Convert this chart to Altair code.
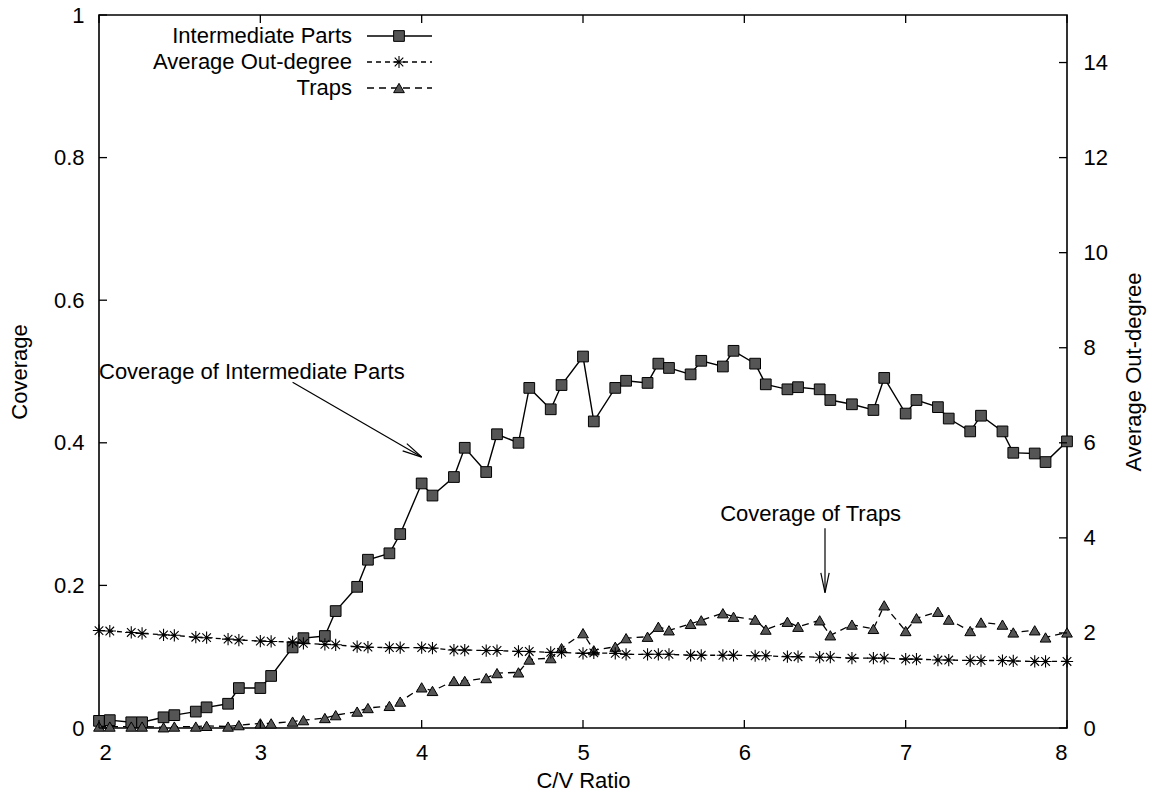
import math
import altair as alt
import pandas as pd

# C/V ratio at each sample point
cv_ratio = [2.0, 2.067, 2.2, 2.267, 2.4, 2.467, 2.6, 2.667, 2.8, 2.867,
            3.0, 3.067, 3.2, 3.267, 3.4, 3.467, 3.6, 3.667, 3.8, 3.867,
            4.0, 4.067, 4.2, 4.267, 4.4, 4.467, 4.6, 4.667, 4.8, 4.867,
            5.0, 5.067, 5.2, 5.267, 5.4, 5.467, 5.533, 5.667, 5.733, 5.867,
            5.933, 6.067, 6.133, 6.267, 6.333, 6.467, 6.533, 6.667, 6.8, 6.867,
            7.0, 7.067, 7.2, 7.267, 7.4, 7.467, 7.6, 7.667, 7.8, 7.867,
            8.0]

# coverage of intermediate parts (left axis)
intermediate_cov = [0.010, 0.011, 0.008, 0.008, 0.015, 0.018, 0.023, 0.029, 0.034, 0.056,
                    0.056, 0.073, 0.113, 0.126, 0.129, 0.164, 0.198, 0.236, 0.245, 0.272,
                    0.343, 0.326, 0.352, 0.393, 0.359, 0.412, 0.400, 0.477, 0.447, 0.481,
                    0.521, 0.430, 0.477, 0.487, 0.484, 0.511, 0.505, 0.496, 0.515, 0.507,
                    0.529, 0.511, 0.482, 0.475, 0.478, 0.475, 0.460, 0.454, 0.446, 0.491,
                    0.441, 0.460, 0.450, 0.434, 0.416, 0.438, 0.416, 0.386, 0.385, 0.373,
                    0.402]

# coverage of traps (left axis)
traps_cov = [0.002, 0.002, 0.002, 0.002, 0.001, 0.002, 0.002, 0.003, 0.002, 0.004,
             0.0065, 0.0065, 0.009, 0.011, 0.014, 0.018, 0.023, 0.028, 0.031, 0.037,
             0.057, 0.052, 0.066, 0.066, 0.070, 0.077, 0.078, 0.096, 0.098, 0.112,
             0.133, 0.109, 0.114, 0.126, 0.128, 0.142, 0.137, 0.146, 0.151, 0.161,
             0.156, 0.152, 0.138, 0.149, 0.142, 0.151, 0.130, 0.145, 0.139, 0.172,
             0.136, 0.154, 0.163, 0.152, 0.136, 0.148, 0.145, 0.134, 0.137, 0.127,
             0.134]

# average out-degree (right axis)
out_degree = [2.05, 2.04, 2.01, 1.99, 1.96, 1.95, 1.91, 1.90, 1.87, 1.85,
              1.83, 1.82, 1.81, 1.78, 1.76, 1.75, 1.71, 1.70, 1.69, 1.69,
              1.69, 1.68, 1.64, 1.64, 1.63, 1.63, 1.61, 1.61, 1.59, 1.59,
              1.57, 1.58, 1.57, 1.55, 1.55, 1.55, 1.55, 1.53, 1.53, 1.53,
              1.53, 1.52, 1.52, 1.50, 1.50, 1.49, 1.49, 1.47, 1.47, 1.47,
              1.45, 1.45, 1.43, 1.43, 1.42, 1.42, 1.42, 1.41, 1.40, 1.40,
              1.40]

x_ticks = [2, 3, 4, 5, 6, 7, 8]
y_ticks = [0, 0.2, 0.4, 0.6, 0.8, 1]
y2_ticks = [0, 2, 4, 6, 8, 10, 12, 14]

series_names = ["Intermediate Parts", "Average Out-degree", "Traps"]

annotations = pd.DataFrame({
    "cv": [2.0, 5.85],
    "cov": [0.5, 0.3],
    "text": ["Coverage of Intermediate Parts", "Coverage of Traps"],
})
# arrows: from (x0, y0) to (x1, y1)
arrows = [(3.2, 0.485, 4.0, 0.38), (6.5, 0.28, 6.5, 0.19)]

W, H = 968, 713
FONT = "Liberation Sans"
FS = 22
GRAY = "#555555"
STAR = "M-1,0H1M0,-1V1M-0.7,-0.7L0.7,0.7M-0.7,0.7L0.7,-0.7"
DASH_DEG = [5, 4]
DASH_TRAPS = [7, 5]

df = pd.DataFrame({"cv": cv_ratio, "inter": intermediate_cov,
                   "traps": traps_cov, "deg": out_degree})

x_scale = alt.Scale(domain=[2, 8], nice=False, zero=False)
y_scale = alt.Scale(domain=[0, 1], nice=False)
y2_scale = alt.Scale(domain=[0, 15], nice=False)

x_axis = alt.Axis(values=x_ticks, format="d", ticks=False, tickSize=0,
                  domain=False, grid=False, labelPadding=14, titlePadding=7)
y_axis = alt.Axis(values=y_ticks, format="~g", ticks=False, tickSize=0,
                  domain=False, grid=False, labelPadding=15, titlePadding=22)
y2_axis = alt.Axis(values=y2_ticks, format="d", ticks=False, tickSize=0,
                   domain=False, grid=False, orient="right", labelPadding=16,
                   titlePadding=38, titleAngle=270)


def X(field):
    return alt.X(field, type="quantitative", scale=x_scale, title="C/V Ratio",
                 axis=x_axis)


def Y(field):
    return alt.Y(field, type="quantitative", scale=y_scale, title="Coverage",
                 axis=y_axis)


def Y2(field):
    return alt.Y(field, type="quantitative", scale=y2_scale,
                 title="Average Out-degree", axis=y2_axis)


base = alt.Chart(df)

inter_line = base.mark_line(color="black", strokeWidth=1.4).encode(
    x=X("cv"), y=Y("inter"))
inter_pts = base.mark_point(shape="square", filled=True, fill=GRAY,
                            stroke="black", strokeWidth=1, size=115,
                            opacity=1).encode(x=X("cv"), y=Y("inter"))
traps_line = base.mark_line(color="black", strokeWidth=1.3,
                            strokeDash=DASH_TRAPS).encode(x=X("cv"), y=Y("traps"))
traps_pts = base.mark_point(shape="triangle-up", filled=True, fill=GRAY,
                            stroke="black", strokeWidth=1, size=115,
                            opacity=1).encode(x=X("cv"), y=Y("traps"))
deg_line = base.mark_line(color="black", strokeWidth=1.3,
                          strokeDash=DASH_DEG).encode(x=X("cv"), y=Y2("deg"))
deg_pts = base.mark_point(shape=STAR, filled=False, stroke="black",
                          strokeWidth=1.1, size=150, opacity=1).encode(
    x=X("cv"), y=Y2("deg"))

# inward ticks on all four sides
TL = 8
xt = alt.Chart(pd.DataFrame({"v": x_ticks}))
yt = alt.Chart(pd.DataFrame({"v": y_ticks}))
y2t = alt.Chart(pd.DataFrame({"v": y2_ticks}))
tick_kw = dict(color="black", strokeWidth=1.3)
ticks_bottom = xt.mark_rule(**tick_kw).encode(
    x=X("v"), y=alt.value(H), y2=alt.value(H - TL))
ticks_top = xt.mark_rule(**tick_kw).encode(
    x=X("v"), y=alt.value(0), y2=alt.value(TL))
ticks_left = yt.mark_rule(**tick_kw).encode(
    y=Y("v"), x=alt.value(0), x2=alt.value(TL))
ticks_right = y2t.mark_rule(**tick_kw).encode(
    y=Y2("v"), x=alt.value(W), x2=alt.value(W - TL))

# text labels and arrows
notes = alt.Chart(annotations).mark_text(
    align="left", baseline="middle", font=FONT, fontSize=FS, color="black"
).encode(x=X("cv"), y=Y("cov"), text="text:N")

sx, sy = W / 6.0, H / 1.0
head_len, head_ang = 20.0, math.radians(12)
segs = []
for x0, y0, x1, y1 in arrows:
    segs.append({"a": x0, "b": y0, "c": x1, "d": y1})
    dxp, dyp = (x1 - x0) * sx, -(y1 - y0) * sy
    n = math.hypot(dxp, dyp)
    bx, by = -dxp / n, -dyp / n
    for s in (1, -1):
        ca, sa = math.cos(s * head_ang), math.sin(s * head_ang)
        wx, wy = bx * ca - by * sa, bx * sa + by * ca
        segs.append({"a": x1, "b": y1,
                     "c": x1 + wx * head_len / sx, "d": y1 - wy * head_len / sy})
arrow_marks = alt.Chart(pd.DataFrame(segs)).mark_rule(
    color="black", strokeWidth=1.2).encode(
    x=X("a"), y=Y("b"), x2="c:Q", y2="d:Q")

# key in the top-left corner
key_rows = [21, 47, 73]
key_text_x, key_l0, key_l1, key_pt = 253, 268, 333, 300
one = alt.Chart(pd.DataFrame({"k": [0]}))
key_layers = []
dashes = [None, DASH_DEG, DASH_TRAPS]
for i, name in enumerate(series_names):
    ry = key_rows[i]
    key_layers.append(one.mark_text(align="right", baseline="middle", font=FONT,
                                    fontSize=FS, color="black").encode(
        x=alt.value(key_text_x), y=alt.value(ry), text=alt.value(name)))
    rule_kw = dict(color="black", strokeWidth=1.3)
    if dashes[i]:
        rule_kw["strokeDash"] = dashes[i]
    key_layers.append(one.mark_rule(**rule_kw).encode(
        x=alt.value(key_l0), x2=alt.value(key_l1), y=alt.value(ry)))
key_layers.append(one.mark_point(shape="square", filled=True, fill=GRAY,
                                 stroke="black", strokeWidth=1, size=115,
                                 opacity=1).encode(
    x=alt.value(key_pt), y=alt.value(key_rows[0])))
key_layers.append(one.mark_point(shape=STAR, filled=False, stroke="black",
                                 strokeWidth=1.1, size=150, opacity=1).encode(
    x=alt.value(key_pt), y=alt.value(key_rows[1])))
key_layers.append(one.mark_point(shape="triangle-up", filled=True, fill=GRAY,
                                 stroke="black", strokeWidth=1, size=115,
                                 opacity=1).encode(
    x=alt.value(key_pt), y=alt.value(key_rows[2])))

left = alt.layer(inter_line, traps_line, inter_pts, traps_pts, ticks_bottom,
                 ticks_top, ticks_left, notes, arrow_marks, *key_layers)
right = alt.layer(deg_line, deg_pts, ticks_right)

chart = alt.layer(left, right).resolve_scale(y="independent").properties(
    width=W, height=H,
    autosize=alt.AutoSizeParams(type="none"),
    padding={"left": 99, "top": 15, "right": 1154 - 99 - W, "bottom": 798 - 15 - H},
    background="white",
).configure_view(stroke="black", strokeWidth=1.6).configure_axis(
    labelFont=FONT, labelFontSize=FS, labelColor="black",
    titleFont=FONT, titleFontSize=FS, titleColor="black", titleFontWeight="normal",
)

chart.save("out.html", embed_options={"renderer": "svg", "actions": False})
